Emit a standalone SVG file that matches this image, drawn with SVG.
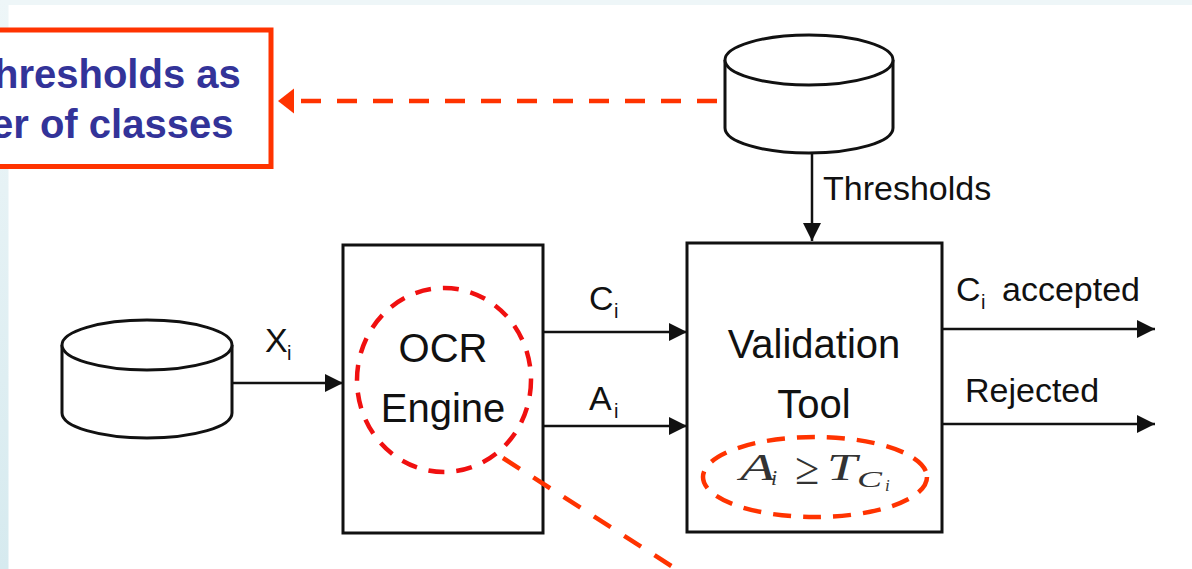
<svg xmlns="http://www.w3.org/2000/svg" width="1192" height="569" viewBox="0 0 1192 569">
  <defs>
    <linearGradient id="edge" x1="0" y1="0" x2="0" y2="1">
      <stop offset="0" stop-color="#eef6f8"/>
      <stop offset="1" stop-color="#d6eaef"/>
    </linearGradient>
    <marker id="arrow" viewBox="0 0 18 18" refX="18" refY="9" markerWidth="18" markerHeight="18" markerUnits="userSpaceOnUse" orient="auto">
      <path d="M0,0 L18,9 L0,18 Z" fill="#111"/>
    </marker>
    <style>
      .box { fill: #fff; stroke: #111; stroke-width: 3; }
      .db { fill: #fff; stroke: #111; stroke-width: 3; }
      .wire { fill: none; stroke: #111; stroke-width: 2.5; }
      .label { font-family: "Liberation Sans", Arial, sans-serif; fill: #111; }
      .big { font-size: 40px; }
      .mid { font-size: 34px; }
      .sub { font-size: 20px; }
      .hl { fill: none; stroke: #ff3300; stroke-width: 4.5; stroke-dasharray: 20 16; }
      .ring { fill: none; stroke: #f01010; stroke-width: 4.5; stroke-dasharray: 16 12; }
      .math { font-family: "Liberation Serif", "Times New Roman", serif; font-style: italic; fill: #333; }
      .note { font-family: "Liberation Sans", Arial, sans-serif; font-weight: bold; font-size: 40px; fill: #333399; }
    </style>
  </defs>

  <!-- page background -->
  <rect x="0" y="0" width="1192" height="569" fill="#fff"/>
  <rect x="0" y="0" width="1192" height="5" fill="#eef6f8"/>
  <rect x="0" y="0" width="8.5" height="569" fill="url(#edge)"/>

  <!-- call-out note -->
  <g id="note">
    <rect x="-10" y="30" width="281" height="136.5" fill="#fff" stroke="#ff3300" stroke-width="5"/>
    <text class="note" x="-6" y="88">hresholds as</text>
    <text class="note" x="-9" y="138">er of classes</text>
  </g>

  <!-- connectors -->
  <g id="connectors">
    <line class="wire" x1="232" y1="383" x2="343" y2="383" marker-end="url(#arrow)"/>
    <line class="wire" x1="543" y1="332" x2="687" y2="332" marker-end="url(#arrow)"/>
    <line class="wire" x1="543" y1="426" x2="687" y2="426" marker-end="url(#arrow)"/>
    <line class="wire" x1="812" y1="153" x2="812" y2="241" marker-end="url(#arrow)"/>
    <line class="wire" x1="942" y1="329" x2="1155" y2="329" marker-end="url(#arrow)"/>
    <line class="wire" x1="942" y1="424" x2="1155" y2="424" marker-end="url(#arrow)"/>

    <text class="label mid" x="265" y="352">X<tspan class="sub" x="287" y="360">i</tspan></text>
    <text class="label mid" x="589" y="310">C<tspan class="sub" x="614" y="318">i</tspan></text>
    <text class="label mid" x="589" y="410">A<tspan class="sub" x="614" y="418">i</tspan></text>
    <text class="label mid" x="823" y="200">Thresholds</text>
    <text class="label mid" x="956" y="301">C<tspan class="sub" x="981" y="309">i</tspan><tspan x="1002" y="301">accepted</tspan></text>
    <text class="label mid" x="965" y="402">Rejected</text>

    <!-- dashed link from the threshold store to the note -->
    <line class="hl" x1="717" y1="101" x2="293" y2="101"/>
    <path d="M278,101 L294,88.5 L294,113.5 Z" fill="#ff3300"/>
  </g>

  <!-- image database -->
  <g id="image-db">
    <path class="db" d="M62,345 L62,413 A85,25 0 0 0 232,413 L232,345"/>
    <ellipse class="db" cx="147" cy="345" rx="85" ry="25"/>
  </g>

  <!-- threshold database -->
  <g id="threshold-db">
    <path class="db" d="M725,60 L725,128 A84,25 0 0 0 893,128 L893,60"/>
    <ellipse class="db" cx="809" cy="60" rx="84" ry="25"/>
  </g>

  <!-- OCR engine -->
  <g id="ocr-engine">
    <rect class="box" x="343" y="245" width="200" height="288"/>
    <text class="label big" x="443" y="362" text-anchor="middle">OCR</text>
    <text class="label big" x="443" y="422" text-anchor="middle">Engine</text>
    <ellipse class="ring" cx="444" cy="380" rx="87" ry="92"/>
  </g>

  <!-- validation tool -->
  <g id="validation-tool">
    <rect class="box" x="687" y="243" width="255" height="289"/>
    <text class="label big" x="814" y="358" text-anchor="middle">Validation</text>
    <text class="label big" x="814" y="418" text-anchor="middle">Tool</text>
    <text class="math" font-size="38" x="740" y="480" textLength="35" lengthAdjust="spacingAndGlyphs">A</text>
    <text class="math" font-size="22" x="771" y="485">i</text>
    <text class="math" font-size="46" font-style="normal" x="795" y="484" textLength="24" lengthAdjust="spacingAndGlyphs">≥</text>
    <text class="math" font-size="38" x="827" y="480" textLength="30" lengthAdjust="spacingAndGlyphs">T</text>
    <text class="math" font-size="24" x="857" y="487" textLength="25" lengthAdjust="spacingAndGlyphs">C</text>
    <text class="math" font-size="17" x="885" y="491">i</text>
    <ellipse cx="815" cy="477" rx="112" ry="40" fill="none" stroke="#ff3300" stroke-width="4.5" stroke-dasharray="18 12"/>
  </g>

  <!-- dashed pointer leaving the OCR highlight, drawn above the boxes -->
  <g id="pointer">
    <line class="hl" x1="503" y1="458" x2="690" y2="578"/>
  </g>
</svg>
